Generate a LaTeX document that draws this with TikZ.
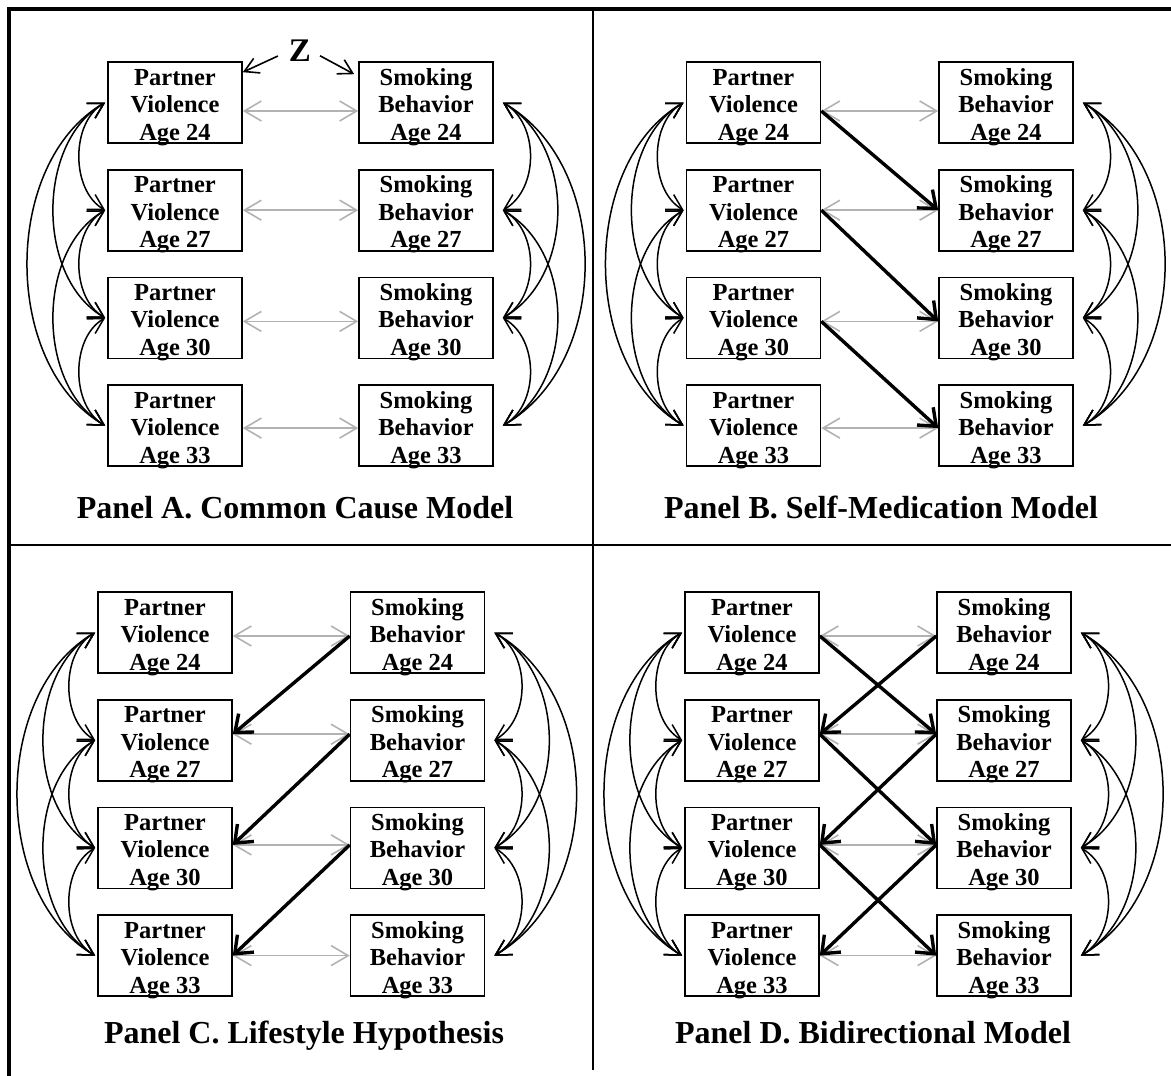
\documentclass[tikz,border=0pt]{standalone}
\usepackage{fontspec}
\setmainfont{Liberation Serif}
\usetikzlibrary{arrows.meta}
\tikzset{
  box/.style={draw, line width=1.6pt, minimum width=134pt, minimum height=81pt, inner sep=0pt, align=center, font=\bfseries\fontsize{24.5}{27.5}\selectfont},
  grayarr/.style={draw=black!30, line width=1.6pt, {Straight Barb[length=17pt,width=20pt]}-{Straight Barb[length=17pt,width=20pt]}},
  patharr/.style={line width=3.4pt, -{Straight Barb[length=15pt,width=24pt]}},
  cov/.style={line width=1.5pt, {Straight Barb[length=15pt,width=17pt]}-{Straight Barb[length=15pt,width=17pt]}},
  zarr/.style={line width=1.6pt, -{Straight Barb[length=14pt,width=16pt]}},
  paneltitle/.style={anchor=base, font=\bfseries\fontsize{32}{36}\selectfont, inner sep=0pt},
  framel/.style={line width=4pt},
  divider/.style={line width=2pt},
}
% #1 prefix, #2 PV x, #3 SB x, #4 first row centre (px from top), #5 rows i/age/offset
\newcommand\mkpanel[5]{%
  \foreach \i/\a/\o in {#5} {
    \node[box] (#1p\i) at (#2, {-(#4+(\i-1)*107.7)}) {\rule{0pt}{20pt}Partner\\Violence\\\smash{Age \a}};
    \node[box] (#1s\i) at (#3, {-(#4+(\i-1)*107.7)}) {\rule{0pt}{20pt}Smoking\\Behavior\\\smash{Age \a}};
    \coordinate (#1e\i) at ([yshift={-(\o)*1pt}]#1p\i.east);
    \coordinate (#1w\i) at ([yshift={-(\o)*1pt}]#1s\i.west);
    \draw[grayarr] (#1e\i) -- (#1w\i);
  }
  \foreach \a/\b in {1/2,1/3,1/4,2/3,2/4,3/4} {
    \draw[cov] ([xshift=-2pt]#1p\a.west) to[bend right=60, looseness=0.95] ([xshift=-2pt]#1p\b.west);
    \draw[cov] ([xshift=9pt]#1s\a.east) to[bend left=60, looseness=1] ([xshift=9pt]#1s\b.east);
  }
}
\begin{document}
\begin{tikzpicture}[x=1pt,y=1pt]
\useasboundingbox (0,0) rectangle (1171,-1076);
% frame
\draw[framel] (7,-9) -- (1171,-9);
\draw[framel] (9,-7) -- (9,-1076);
\draw[divider] (9,-545) -- (1171,-545);
\draw[divider] (593,-9) -- (593,-1070);

% Panel A
\mkpanel{A}{175}{426}{102.5}{1/24/8.5,2/27/0,3/30/3.5,4/33/2.5}
\node[font=\bfseries\fontsize{33}{36}\selectfont, inner sep=0pt] (z) at (300,-51) {Z};
\draw[zarr, shorten <=12pt] (z.west) -- ([yshift=-11pt]Ap1.north east);
\draw[zarr, shorten <=10pt] (z.east) -- ([xshift=-4pt,yshift=-13pt]As1.north west);
\node[paneltitle] (ta) at (295,-518) {Panel A. Common Cause Model};

% Panel B
\mkpanel{B}{753.5}{1006}{102.5}{1/24/8.5,2/27/0,3/30/3.5,4/33/2.5}
\foreach \i/\j in {1/2,2/3,3/4} {\draw[patharr] (Be\i) -- (Bw\j);}
\node[paneltitle] (tb) at (881,-518) {Panel B. Self-Medication Model};

% Panel C
\mkpanel{C}{165}{417.5}{632.5}{1/24/3.5,2/27/-6,3/30/-3,4/33/0}
\foreach \i/\j in {1/2,2/3,3/4} {\draw[patharr] (Cw\i) -- (Ce\j);}
\node[paneltitle] (tc) at (304,-1043) {Panel C. Lifestyle Hypothesis};

% Panel D
\mkpanel{D}{752}{1004}{632.5}{1/24/3.5,2/27/-6,3/30/-3,4/33/0}
\foreach \i/\j in {1/2,2/3,3/4} {\draw[patharr] (De\i) -- (Dw\j); \draw[patharr] (Dw\i) -- (De\j);}
\node[paneltitle] (td) at (873,-1043) {Panel D. Bidirectional Model};
\end{tikzpicture}
\end{document}
